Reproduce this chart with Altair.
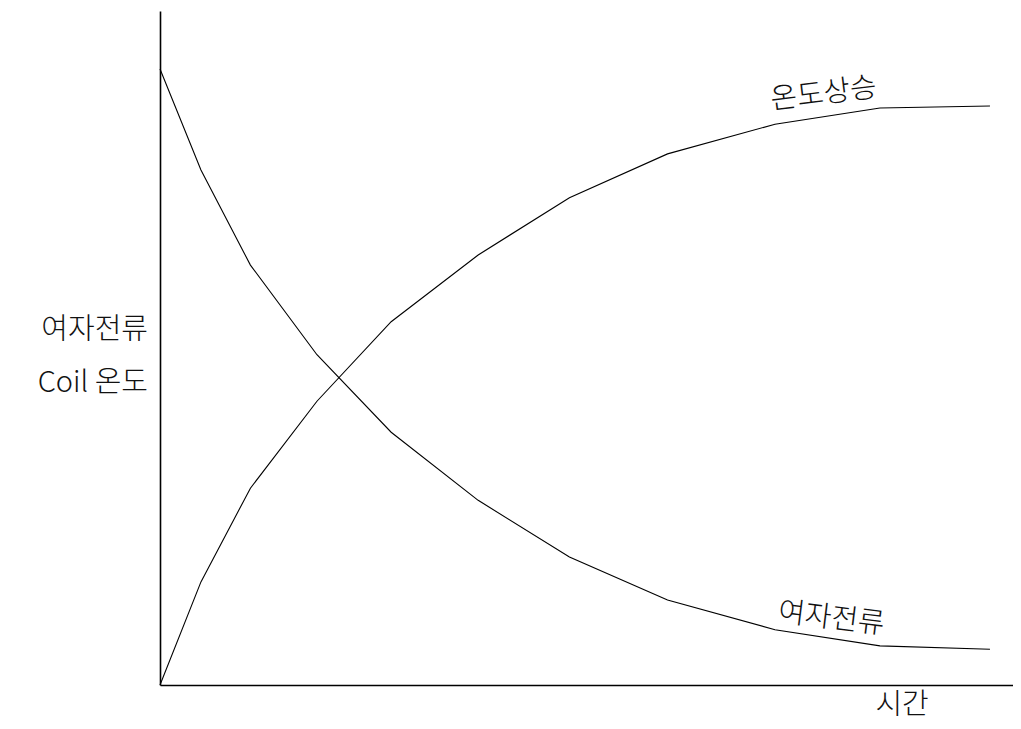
import altair as alt
import pandas as pd

# Time positions (arbitrary units, 0-100)
time = [0, 4.8, 10.6, 18.4, 27.1, 37.3, 48.0, 59.5, 72.1, 84.4, 97.3]
# Excitation current (여자전류), falling
current = [91.4, 76.4, 62.3, 49.0, 37.5, 27.4, 19.0, 12.6, 8.2, 5.8, 5.3]
# Coil temperature rise (온도상승), rising
temperature = [0, 15.3, 29.2, 42.1, 53.9, 63.8, 72.3, 78.8, 83.2, 85.6, 85.9]

series_names = ["여자전류", "온도상승"]

rows = []
for t, c in zip(time, current):
    rows.append({"t": t, "v": c, "series": series_names[0]})
for t, c in zip(time, temperature):
    rows.append({"t": t, "v": c, "series": series_names[1]})
df = pd.DataFrame(rows)

FONT = "Noto Sans CJK KR Light, Noto Sans CJK KR DemiLight, Noto Sans CJK KR"
FS = 29
xs = alt.Scale(domain=[0, 100], nice=False, zero=False)
ys = alt.Scale(domain=[0, 100], nice=False, zero=False)
ax = alt.Axis(title=None, labels=False, ticks=False, grid=False,
              domainColor="black", domainWidth=1.6)

lines = alt.Chart(df).mark_line(color="black", strokeWidth=1.1).encode(
    x=alt.X("t:Q", scale=xs, axis=ax),
    y=alt.Y("v:Q", scale=ys, axis=ax),
    detail="series:N",
)

def label(text, x, y, angle=0, align="center"):
    d = pd.DataFrame({"label": [text], "x": [x], "y": [y]})
    kw = dict(font=FONT, fontSize=FS, fontWeight=300, color="#111111",
              align=align, baseline="middle")
    if angle:
        kw["angle"] = angle
    return alt.Chart(d).mark_text(**kw).encode(
        x=alt.X("x:Q", scale=xs, axis=ax),
        y=alt.Y("y:Q", scale=ys, axis=ax),
        text="label:N")

def side_label(text, y):
    d = pd.DataFrame({"label": [text], "y": [y]})
    return alt.Chart(d).mark_text(font=FONT, fontSize=FS, fontWeight=300,
                                  color="#111111", align="right",
                                  baseline="middle").encode(
        x=alt.value(-12), y=alt.Y("y:Q", scale=ys, axis=ax), text="label:N")

chart = alt.layer(
    lines,
    label("온도상승", 77.8, 87.7, angle=353),
    label("여자전류", 78.7, 9.9, angle=7),
    label("시간", 87.0, -3.0),
    side_label("여자전류", 52.7),
    side_label("Coil 온도", 44.8),
).properties(
    width=853, height=674,
    padding={"left": 152, "top": 3, "right": 0, "bottom": 36},
    autosize=alt.AutoSizeParams(type="none"),
    background="white",
).configure_view(stroke=None)

chart.save("out.html", embed_options={"renderer": "svg", "actions": False})
